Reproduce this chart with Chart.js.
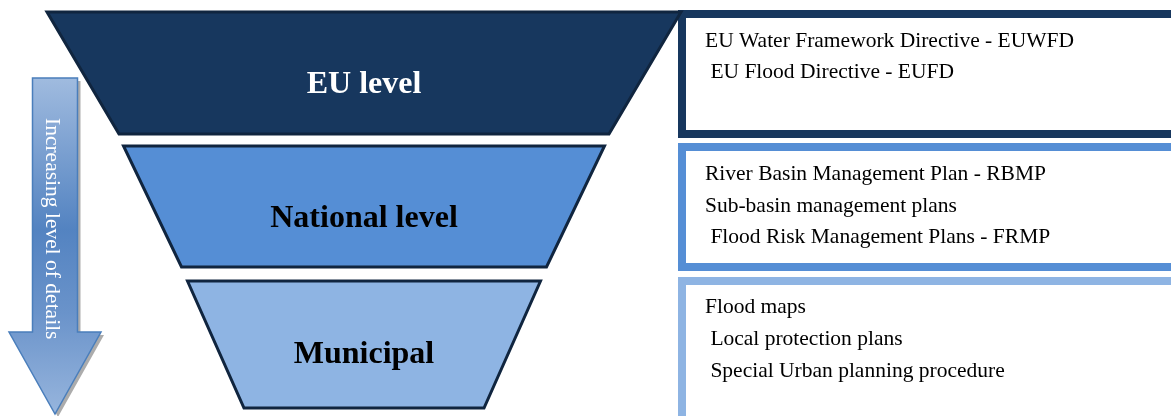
<!DOCTYPE html>
<html>
<head>
<meta charset="utf-8">
<script src="https://cdn.jsdelivr.net/npm/chart.js@4"></script>
<style>
  html, body { margin:0; padding:0; background:#fff; }
  #wrap { width:1171px; height:416px; position:relative; }
</style>
</head>
<body>
<div id="wrap"><canvas id="funnel"></canvas></div>
<script>
// ------------------------
// DATA
// ------------------------
const levels = ["EU level", "National level", "Municipal"];
const levelItems = [
  ["EU Water Framework Directive - EUWFD", " EU Flood Directive - EUFD"],
  ["River Basin Management Plan - RBMP", "Sub-basin management plans", " Flood Risk Management Plans - FRMP"],
  ["Flood maps", " Local protection plans", " Special Urban planning procedure"]
];
const arrowLabel = "Increasing level of details";

// ------------------------
// LAYOUT (chart units = px, y axis reversed)
// ------------------------
const W = 1171, H = 416;
const funnelCenter = 364;
const levelTop = [12, 146, 281];
const levelBottom = [134, 267, 408];
const levelTopWidth = [634, 481, 353];
const levelBottomWidth = [490, 365, 240];
const levelBaseline = [93, 227, 363];

const boxLeft = 678, boxBorder = 8;
const boxTop = [10, 143, 277];
const boxBottom = [138, 271, 424];
const boxTextX = 705;
const boxBaselines = [[47, 78], [180, 212, 243], [313, 345, 377]];

// arrow: shaft + head
const arrow = { cx: 55, shaftHalf: 22.5, headHalf: 46, top: 78, neck: 332, tip: 414 };

// colours
const levelFill = ["#17375E", "#558ED5", "#8EB4E3"];
const levelInk = ["#FFFFFF", "#000000", "#000000"];
const edgeColor = "#10253F";
const serif = '"Liberation Serif", "Times New Roman", serif';

// ------------------------
// HELPERS
// ------------------------
function closePath(pts){ return pts.concat([pts[0], pts[1]]); }

function trapezoid(i){
  const c = funnelCenter, t = levelTopWidth[i] / 2, b = levelBottomWidth[i] / 2;
  return closePath([
    { x: c - t, y: levelTop[i] }, { x: c + t, y: levelTop[i] },
    { x: c + b, y: levelBottom[i] }, { x: c - b, y: levelBottom[i] }
  ]);
}

function box(i){
  const h = boxBorder / 2;
  return closePath([
    { x: boxLeft + h, y: boxTop[i] + h }, { x: W + 20, y: boxTop[i] + h },
    { x: W + 20, y: boxBottom[i] - h }, { x: boxLeft + h, y: boxBottom[i] - h }
  ]);
}

function arrowShape(dx, dy){
  const a = arrow;
  return closePath([
    { x: a.cx - a.shaftHalf, y: a.top }, { x: a.cx + a.shaftHalf, y: a.top },
    { x: a.cx + a.shaftHalf, y: a.neck }, { x: a.cx + a.headHalf, y: a.neck },
    { x: a.cx, y: a.tip }, { x: a.cx - a.headHalf, y: a.neck },
    { x: a.cx - a.shaftHalf, y: a.neck }
  ]).map(p => ({ x: p.x + dx, y: p.y + dy }));
}

function arrowGradient(context){
  const chart = context.chart;
  if(!chart.chartArea) return "#6f97cc";
  const y = chart.scales.y;
  const g = chart.ctx.createLinearGradient(0, y.getPixelForValue(arrow.top), 0, y.getPixelForValue(arrow.tip));
  g.addColorStop(0, "#A0BBDF");
  g.addColorStop(0.45, "#5383C1");
  g.addColorStop(0.7, "#6A93CA");
  g.addColorStop(1, "#97B5DD");
  return g;
}

const shapeBase = { showLine: true, fill: "shape", pointRadius: 0, tension: 0, borderJoinStyle: "miter" };

// ------------------------
// DATASETS
// ------------------------
const datasets = [];
levels.forEach((name, i) => {
  datasets.push({ ...shapeBase, label: name, data: trapezoid(i),
    backgroundColor: levelFill[i], borderColor: edgeColor, borderWidth: 3, order: 1 });
  datasets.push({ ...shapeBase, label: name + " box", data: box(i),
    backgroundColor: "#FFFFFF", borderColor: levelFill[i], borderWidth: boxBorder, order: 1 });
});
datasets.push({ ...shapeBase, label: "arrow", data: arrowShape(0, 0),
  backgroundColor: arrowGradient, borderColor: "#4A7EBB", borderWidth: 1.5, order: 1 });
datasets.push({ ...shapeBase, label: "arrow shadow", data: arrowShape(3, 3),
  backgroundColor: "rgba(70,70,70,0.45)", borderColor: "rgba(0,0,0,0)", borderWidth: 0, order: 2 });

// ------------------------
// TEXT PLUGIN
// ------------------------
const labelPlugin = {
  id: "funnelLabels",
  afterDatasetsDraw(chart){
    const { ctx, scales: { x, y } } = chart;
    ctx.save();

    // level names in the funnel
    ctx.font = "bold 32px " + serif;
    ctx.textAlign = "center";
    ctx.textBaseline = "alphabetic";
    levels.forEach((name, i) => {
      ctx.fillStyle = levelInk[i];
      ctx.fillText(name, x.getPixelForValue(funnelCenter), y.getPixelForValue(levelBaseline[i]));
    });

    // items in the side boxes
    ctx.font = "21.5px " + serif;
    ctx.textAlign = "left";
    ctx.fillStyle = "#000000";
    levelItems.forEach((items, i) => {
      items.forEach((txt, j) => {
        ctx.fillText(txt, x.getPixelForValue(boxTextX), y.getPixelForValue(boxBaselines[i][j]));
      });
    });

    // vertical label in the arrow
    ctx.translate(x.getPixelForValue(52), y.getPixelForValue(118));
    ctx.rotate(Math.PI / 2);
    ctx.font = "21.5px " + serif;
    ctx.fillStyle = "#FFFFFF";
    ctx.textBaseline = "middle";
    ctx.fillText(arrowLabel, 0, 0);

    ctx.restore();
  }
};

// ------------------------
// INIT
// ------------------------
new Chart(document.getElementById("funnel"), {
  type: "scatter",
  data: { datasets },
  options: {
    responsive: true,
    maintainAspectRatio: false,
    animation: false,
    events: [],
    layout: { padding: 0 },
    scales: {
      x: { type: "linear", min: 0, max: W, display: false },
      y: { type: "linear", min: 0, max: H, reverse: true, display: false }
    },
    plugins: { legend: { display: false }, tooltip: { enabled: false } }
  },
  plugins: [labelPlugin]
});
</script>
</body>
</html>
